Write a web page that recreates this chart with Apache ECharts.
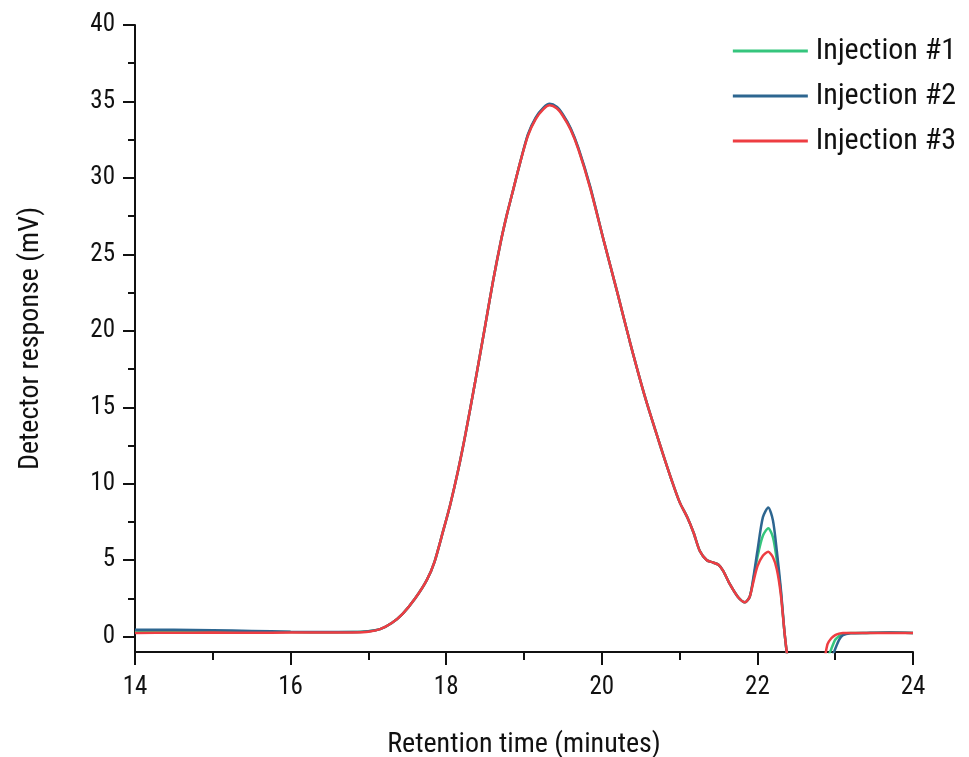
<!DOCTYPE html>
<html>
<head>
<meta charset="utf-8">
<script src="https://cdn.jsdelivr.net/npm/echarts@6/dist/echarts.min.js"></script>
<style>
  html, body { margin: 0; padding: 0; background: #fff; }
  #chart { width: 969px; height: 757px; }
</style>
</head>
<body>
<div id="chart"></div>
<script>
// retention time (minutes)
const times = [
  14.0, 14.5, 15.0, 15.5, 16.0, 16.5, 16.8, 17.0, 17.15, 17.3,
  17.44, 17.6, 17.75, 17.85, 17.96, 18.05, 18.15, 18.25, 18.37, 18.5,
  18.6, 18.7, 18.78, 18.85, 18.95, 19.05, 19.15, 19.25, 19.33, 19.42,
  19.5, 19.6, 19.7, 19.85, 20.02, 20.2, 20.36, 20.56, 20.77, 20.9,
  21.0, 21.1, 21.18, 21.26, 21.35, 21.43, 21.5, 21.56, 21.65, 21.75,
  21.84, 21.9, 21.94, 22.0, 22.07, 22.14, 22.2, 22.25, 22.3, 22.35,
  22.4, 22.5, 22.7, 22.85, 22.9, 22.95, 23.0, 23.05, 23.1, 23.2,
  23.4, 23.7, 24.0
]

// detector response (mV)
const injection1 = [
  0.35, 0.36, 0.34, 0.32, 0.30, 0.29, 0.30, 0.36, 0.5, 0.9,
  1.5, 2.5, 3.7, 4.9, 6.9, 8.6, 10.8, 13.3, 16.6, 20.3,
  23.2, 25.8, 27.6, 29.0, 31.0, 32.8, 33.9, 34.55, 34.8, 34.6,
  34.1, 33.2, 31.9, 29.4, 26.0, 22.5, 19.3, 15.6, 12.2, 10.2,
  8.8, 7.8, 6.8, 5.6, 5.0, 4.85, 4.7, 4.3, 3.4, 2.6,
  2.25, 2.6, 3.5, 5.2, 6.6, 7.1, 6.5, 5.0, 3.0, 0.2,
  -2, -6, -8, -3, -1.5, -0.8, -0.2, 0.05, 0.2, 0.25,
  0.25, 0.27, 0.25
]
const injection2 = [
  0.45, 0.45, 0.42, 0.38, 0.33, 0.30, 0.30, 0.36, 0.5, 0.9,
  1.5, 2.5, 3.7, 4.9, 6.9, 8.6, 10.8, 13.3, 16.6, 20.3,
  23.2, 25.8, 27.6, 29.0, 31.0, 32.85, 33.95, 34.6, 34.85, 34.65,
  34.15, 33.25, 31.95, 29.45, 26.0, 22.5, 19.3, 15.6, 12.2, 10.2,
  8.8, 7.8, 6.8, 5.6, 5.0, 4.85, 4.7, 4.3, 3.4, 2.6,
  2.25, 2.6, 3.6, 5.6, 7.8, 8.45, 7.6, 5.6, 3.2, 0.2,
  -2, -6, -8, -4, -2.5, -1.5, -0.8, -0.2, 0.1, 0.22,
  0.25, 0.28, 0.25
]
const injection3 = [
  0.25, 0.26, 0.27, 0.26, 0.27, 0.27, 0.28, 0.33, 0.5, 0.9,
  1.5, 2.5, 3.7, 4.9, 6.9, 8.6, 10.8, 13.3, 16.6, 20.3,
  23.2, 25.8, 27.6, 29.0, 31.0, 32.75, 33.85, 34.5, 34.75, 34.55,
  34.05, 33.15, 31.85, 29.35, 26.0, 22.5, 19.3, 15.6, 12.2, 10.2,
  8.8, 7.8, 6.8, 5.6, 5.0, 4.85, 4.7, 4.3, 3.4, 2.6,
  2.25, 2.6, 3.4, 4.6, 5.3, 5.55, 5.2, 4.4, 2.8, 0.2,
  -2, -6, -8, -2, -0.5, -0.1, 0.1, 0.2, 0.25, 0.25,
  0.25, 0.25, 0.25
]

const seriesNames = ['Injection #1', 'Injection #2', 'Injection #3']
const seriesColors = ['#35c57d', '#2d6690', '#ee3d42']
const yTicks = [0, 5, 10, 15, 20, 25, 30, 35, 40]
const yMinorTicks = [2.5, 7.5, 12.5, 17.5, 22.5, 27.5, 32.5, 37.5]

const font = "'Liberation Sans Narrow', 'Roboto Condensed', 'Liberation Sans', sans-serif"
const pair = (vals) => times.map((t, i) => [t, vals[i]])
const allValues = [injection1, injection2, injection3]

const chart = echarts.init(document.getElementById('chart'))

chart.setOption({
  animation: false,
  textStyle: { fontFamily: font, color: '#111' },
  grid: { left: 135, right: 56, top: 25, bottom: 105, outerBoundsMode: 'none' },
  legend: {
    orient: 'vertical',
    right: 8,
    top: 30,
    icon: 'rect',
    itemWidth: 75,
    itemHeight: 3,
    itemGap: 13,
    data: seriesNames,
    textStyle: { fontFamily: font, fontSize: 30, color: '#111', lineHeight: 32, padding: [0, 0, 0, 3] }
  },
  xAxis: {
    type: 'value',
    min: 14,
    max: 24,
    interval: 2,
    name: 'Retention time (minutes)',
    nameLocation: 'middle',
    nameGap: 79,
    nameTextStyle: { fontFamily: font, fontSize: 28, color: '#111' },
    axisLine: { onZero: false, lineStyle: { color: '#111', width: 2 } },
    axisTick: { length: 13, lineStyle: { color: '#111', width: 2 } },
    minorTick: { show: true, splitNumber: 2, length: 8, lineStyle: { color: '#111', width: 2 } },
    axisLabel: { margin: 23, fontFamily: font, fontSize: 25, color: '#111' },
    splitLine: { show: false }
  },
  yAxis: [
    {
      type: 'value',
      min: -1,
      max: 40,
      name: 'Detector response (mV)',
      nameLocation: 'middle',
      nameGap: 90,
      nameTextStyle: { fontFamily: font, fontSize: 28, color: '#111' },
      axisLine: { onZero: false, lineStyle: { color: '#111', width: 2 } },
      axisTick: { length: 12, customValues: yTicks, lineStyle: { color: '#111', width: 2 } },
      axisLabel: { margin: 20, customValues: yTicks, fontFamily: font, fontSize: 25, color: '#111' },
      splitLine: { show: false }
    },
    {
      type: 'value',
      min: -1,
      max: 40,
      position: 'left',
      axisLine: { show: false },
      axisTick: { show: true, length: 7, customValues: yMinorTicks, lineStyle: { color: '#111', width: 2 } },
      axisLabel: { show: false, customValues: yMinorTicks },
      splitLine: { show: false }
    }
  ],
  series: seriesNames.map((name, i) => ({
    name,
    type: 'line',
    data: pair(allValues[i]),
    symbol: 'none',
    smooth: 0.25,
    clip: true,
    color: seriesColors[i],
    lineStyle: { color: seriesColors[i], width: 2.5 }
  }))
})
</script>
</body>
</html>
